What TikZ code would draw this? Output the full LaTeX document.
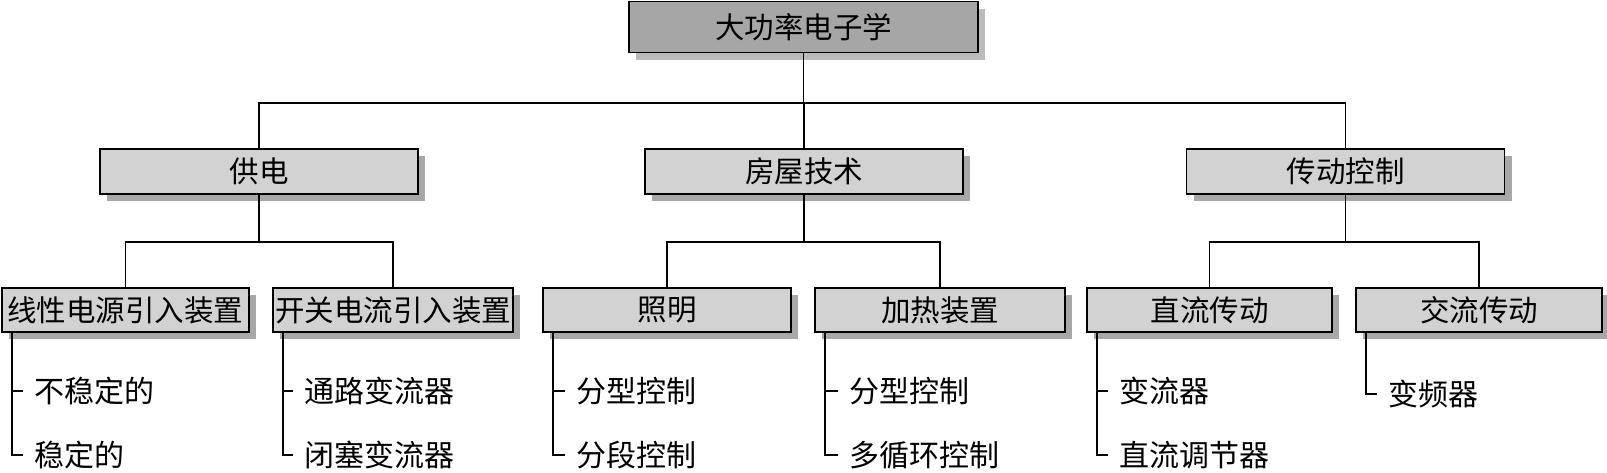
\documentclass[tikz,border=0pt]{standalone}
\usepackage{fontspec}
\newfontfamily\cjk{Noto Sans CJK SC}
\usetikzlibrary{shadows}
\definecolor{topfill}{HTML}{A6A6A6}
\definecolor{topshadow}{HTML}{BBBBBB}
\definecolor{boxfill}{HTML}{D2D2D2}
\definecolor{boxshadow}{HTML}{A8A8A8}
\tikzset{
  conn/.style={draw=black, line width=1.6pt},
  basebox/.style={draw=black, line width=1.6pt, rectangle, inner sep=0pt,
    font=\cjk\fontsize{29.5}{31}\selectfont},
  topbox/.style={basebox, fill=topfill, minimum width=349pt, minimum height=51pt,
    drop shadow={shadow xshift=7pt, shadow yshift=-7pt, fill=topshadow, opacity=1}},
  midbox/.style={basebox, fill=boxfill, minimum width=318pt, minimum height=45pt,
    drop shadow={shadow xshift=7pt, shadow yshift=-7pt, fill=boxshadow, opacity=1}},
  lowbox/.style={basebox, fill=boxfill, minimum width=246pt, minimum height=44pt,
    drop shadow={shadow xshift=7pt, shadow yshift=-7pt, fill=boxshadow, opacity=1}},
  item/.style={anchor=west, inner xsep=11pt, inner ysep=0pt,
    font=\cjk\fontsize{30}{31}\selectfont}
}
\begin{document}
\begin{tikzpicture}[x=1pt, y=-1pt]
\useasboundingbox (0,0) rectangle (1607,472);
% level 1
\node[topbox] (top) at (803.5,27) {大功率电子学};
% level 2
\node[midbox] (a) at (259,171.5) {供电};
\node[midbox] (b) at (804,171.5) {房屋技术};
\node[midbox] (c) at (1345.5,171.5) {传动控制};
% level 3
\node[lowbox, minimum width=247pt] (a1) at (125.5,310) {线性电源引入装置};
\node[lowbox, minimum width=240pt] (a2) at (393,310) {开关电流引入装置};
\node[lowbox, minimum width=248pt] (b1) at (667,310) {照明};
\node[lowbox, minimum width=250pt] (b2) at (940,310) {加热装置};
\node[lowbox, minimum width=245pt] (c1) at (1209.5,310) {直流传动};
\node[lowbox, minimum width=246pt] (c2) at (1479,310) {交流传动};
% connectors level 1 -> 2
\coordinate (j0) at (803.5,103);
\draw[conn] (top.south) -- (j0);
\draw[conn] (a.north) |- (j0) -| (c.north);
\draw[conn] (b.north) -- (b.north |- j0);
% connectors level 2 -> 3
\coordinate (ja) at (259,242);
\coordinate (jb) at (804,242);
\coordinate (jc) at (1345.5,242);
\draw[conn] (a.south) -- (ja);
\draw[conn] (b.south) -- (jb);
\draw[conn] (c.south) -- (jc);
\draw[conn] (a1.north) |- (ja) -| (a2.north);
\draw[conn] (b1.north) |- (jb) -| (b2.north);
\draw[conn] (c1.north) |- (jc) -| (c2.north);
% lists
\node[item] (a11) at (23,391) {不稳定的};
\node[item] (a12) at (23,455) {稳定的};
\node[item] (a21) at (293,391) {通路变流器};
\node[item] (a22) at (293,455) {闭塞变流器};
\node[item] (b11) at (565,391) {分型控制};
\node[item] (b12) at (565,455) {分段控制};
\node[item] (b21) at (838,391) {分型控制};
\node[item] (b22) at (838,455) {多循环控制};
\node[item] (c11) at (1108,391) {变流器};
\node[item] (c12) at (1108,455) {直流调节器};
\node[item] (c21) at (1377,394) {变频器};
\foreach \bx/\it in {a1/a11,a1/a12,a2/a21,a2/a22,b1/b11,b1/b12,b2/b21,b2/b22,c1/c11,c1/c12,c2/c21}
  \draw[conn] ([xshift=11pt]\bx.south west) |- (\it.west);
\end{tikzpicture}
\end{document}
